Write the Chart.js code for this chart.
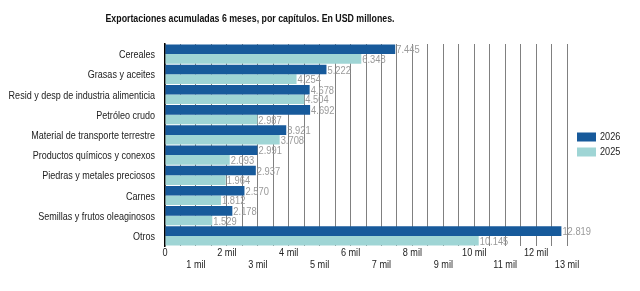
<!DOCTYPE html>
<html>
<head>
<meta charset="utf-8">
<script src="https://cdn.jsdelivr.net/npm/chart.js@4"></script>
<style>
body { margin: 0; background: #fff; }
#wrap { width: 640px; height: 291px; }
</style>
</head>
<body>
<div id="wrap"><canvas id="grafico"></canvas></div>
<script>
const categorias = [
	'Cereales',
	'Grasas y aceites',
	'Resid y desp de industria alimenticia',
	'Petróleo crudo',
	'Material de transporte terrestre',
	'Productos químicos y conexos',
	'Piedras y metales preciosos',
	'Carnes',
	'Semillas y frutos oleaginosos',
	'Otros',
];
const valores2026 = [7445, 5222, 4678, 4692, 3921, 2991, 2937, 2570, 2178, 12819];
const valores2025 = [6348, 4254, 4504, 2987, 3708, 2093, 1964, 1812, 1529, 10145];
const etiquetasEje = ['0', '1 mil', '2 mil', '3 mil', '4 mil', '5 mil', '6 mil', '7 mil', '8 mil', '9 mil', '10 mil', '11 mil', '12 mil', '13 mil'];
const series = ['2026', '2025'];
const colores = ['#175a9b', '#9fd5d5'];

const titulo = 'Exportaciones acumuladas 6 meses, por capítulos. En USD millones.';
const fuente = "'Liberation Sans', Arial, sans-serif";

const formato = (v) => String(v).replace(/\B(?=(\d{3})+(?!\d))/g, '.');

// el original usa una letra angosta: se comprime el texto en horizontal
const textoAngosto = (ctx, texto, x, y, align, escala) => {
	ctx.save();
	ctx.translate(x, y);
	ctx.scale(escala, 1);
	ctx.textAlign = align;
	ctx.textBaseline = 'middle';
	ctx.fillText(texto, 0, 0);
	ctx.restore();
};

const textos = {
	id: 'textos',
	afterDraw(chart) {
		const { ctx, chartArea } = chart;
		const { x, y } = chart.scales;
		ctx.save();

		// titulo
		ctx.font = `bold 11px ${fuente}`;
		ctx.fillStyle = '#111';
		textoAngosto(ctx, titulo, 250, 19, 'center', 0.8);

		// categorias
		ctx.font = `11px ${fuente}`;
		ctx.fillStyle = '#222';
		categorias.forEach((c, i) => {
			textoAngosto(ctx, c, chartArea.left - 10, y.getPixelForTick(i) + 1, 'right', 0.82);
		});

		// eje x en dos filas
		etiquetasEje.forEach((t, i) => {
			const fila = i % 2 === 0 ? 7 : 19;
			textoAngosto(ctx, t, x.getPixelForValue(i * 1000), chartArea.bottom + fila, 'center', 0.83);
		});

		// leyenda
		const medio = (chartArea.top + chartArea.bottom) / 2;
		series.forEach((s, i) => {
			const cy = medio - 8 + i * 15;
			ctx.fillStyle = colores[i];
			ctx.fillRect(chartArea.right + 10, cy - 4.5, 19, 9);
			ctx.fillStyle = '#222';
			textoAngosto(ctx, s, chartArea.right + 33, cy, 'left', 0.83);
		});

		// valores grises al final de cada barra
		ctx.fillStyle = '#9a9a9a';
		chart.data.datasets.forEach((ds, i) => {
			chart.getDatasetMeta(i).data.forEach((bar, j) => {
				textoAngosto(ctx, formato(ds.data[j]), bar.x + 1, bar.y + 1, 'left', 0.85);
			});
		});

		ctx.restore();
	},
};

new Chart(document.getElementById('grafico'), {
	type: 'bar',
	data: {
		labels: categorias,
		datasets: series.map((s, i) => ({
			label: s,
			data: i === 0 ? valores2026 : valores2025,
			backgroundColor: colores[i],
		})),
	},
	options: {
		indexAxis: 'y',
		responsive: true,
		maintainAspectRatio: false,
		animation: false,
		categoryPercentage: 0.95,
		barPercentage: 1,
		layout: { padding: { top: 44, bottom: 45, left: 0, right: 73 } },
		scales: {
			x: {
				min: 0,
				max: 13000,
				border: { display: false },
				grid: { color: '#808080', lineWidth: 1, drawTicks: false },
				ticks: { stepSize: 500, autoSkip: false, display: false },
			},
			y: {
				grid: { display: false },
				border: { color: '#000', width: 1.5 },
				ticks: { display: false },
				afterFit: (scale) => {
					scale.width = 165;
				},
			},
		},
		plugins: {
			legend: { display: false },
			tooltip: { enabled: false },
		},
	},
	plugins: [textos],
});
</script>
</body>
</html>
